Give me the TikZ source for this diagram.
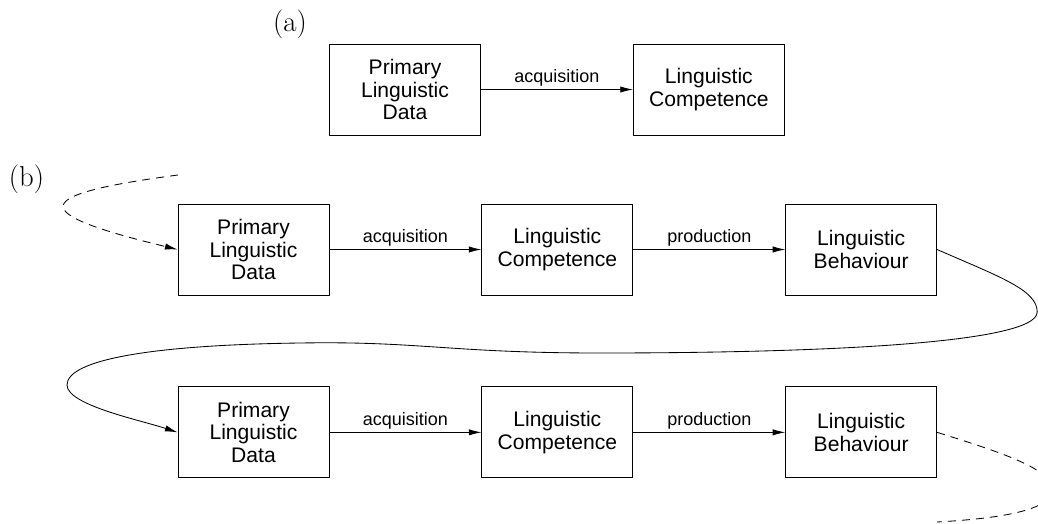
\documentclass[tikz,border=0pt]{standalone}
\usepackage{fontspec}
\newfontfamily\figfont{Liberation Sans}
\usepackage{tikz}
\usetikzlibrary{arrows.meta,positioning}
\tikzset{>={Latex[length=9pt,width=4.5pt]}}

\begin{document}
\begin{tikzpicture}[
    box/.style={draw, line width=0.6pt, minimum width=3.775cm, minimum height=2.275cm,
      inner sep=0pt, align=center, font=\figfont\fontsize{15}{16.2}\selectfont},
    lbl/.style={above=-1.5pt, font=\figfont\fontsize{12.8}{14}\selectfont},
    tag/.style={font=\fontsize{20.5}{24}\selectfont},
    link/.style={->, line width=0.6pt},
    loose/.style={->, line width=0.6pt, dash pattern=on 5.7pt off 4.3pt}]
    \clip (0,0) rectangle (25.95,-13.075);

    % (a) acquisition only
    \node [tag] (la) at (7.25,-0.6) {(a)};
    \node [box] (pld) at (10.125,-2.2375) {Primary\\Linguistic\\Data};
    \node [box, right=3.8cm of pld] (lc) {Linguistic\\Competence};
    \draw [link] (pld) -- node [lbl] {acquisition} (lc);

    % (b) the iterated cycle
    \node [tag] (lb) at (0.66,-4.475) {(b)};
    \node [box] (pld1) at (6.3375,-6.2375) {Primary\\Linguistic\\Data};
    \node [box, right=3.8cm of pld1] (lc1) {Linguistic\\Competence};
    \node [box, right=3.8cm of lc1] (lb1) {Linguistic\\Behaviour};
    \node [box, below=2.275cm of pld1] (pld2) {Primary\\Linguistic\\Data};
    \node [box, right=3.8cm of pld2] (lc2) {Linguistic\\Competence};
    \node [box, right=3.8cm of lc2] (lb2) {Linguistic\\Behaviour};
    \draw [link] (pld1) -- node [lbl] {acquisition} (lc1);
    \draw [link] (lc1) -- node [lbl] {production} (lb1);
    \draw [link] (pld2) -- node [lbl] {acquisition} (lc2);
    \draw [link] (lc2) -- node [lbl] {production} (lb2);

    % loops between generations
    \coordinate (in) at (4.45,-4.375);
    \coordinate (out) at (23.425,-13.05);
    \draw [loose] (in) .. controls (0.675,-4.875) and (0.675,-5.325) .. (pld1.west);
    \draw [link] (lb1.east) .. controls (25,-6.925) and (25.93,-7.25) .. (25.93,-7.8)
      .. controls (25.93,-8.625) and (20,-8.825) .. (15,-8.825)
      .. controls (11.25,-8.825) and (10.5,-8.525) .. (7.5,-8.575)
      .. controls (3.75,-8.625) and (1.675,-9) .. (1.675,-9.625)
      .. controls (1.675,-10.125) and (3.5,-10.5) .. (pld2.west);
    \draw [loose, -] (lb2.east) .. controls (25.25,-11.375) and (26.3,-11.75) .. (26.3,-12.25)
      .. controls (26.3,-12.8) and (24.75,-12.975) .. (out);
  \end{tikzpicture}
\end{document}
